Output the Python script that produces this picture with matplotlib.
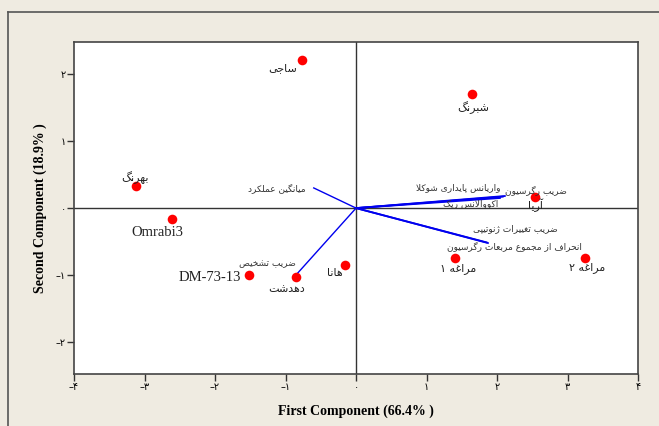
import matplotlib
matplotlib.use("Agg")
import matplotlib.pyplot as plt
from matplotlib.lines import Line2D

# Persian letters -> presentation forms (isolated, final, initial, medial)
FORMS = {
    'ا': ('\uFE8D', '\uFE8E', None, None),
    'آ': ('\uFE81', '\uFE82', None, None),
    'ب': ('\uFE8F', '\uFE90', '\uFE91', '\uFE92'),
    'پ': ('\uFB56', '\uFB57', '\uFB58', '\uFB59'),
    'ت': ('\uFE95', '\uFE96', '\uFE97', '\uFE98'),
    'ث': ('\uFE99', '\uFE9A', '\uFE9B', '\uFE9C'),
    'ج': ('\uFE9D', '\uFE9E', '\uFE9F', '\uFEA0'),
    'چ': ('\uFB7A', '\uFB7B', '\uFB7C', '\uFB7D'),
    'ح': ('\uFEA1', '\uFEA2', '\uFEA3', '\uFEA4'),
    'خ': ('\uFEA5', '\uFEA6', '\uFEA7', '\uFEA8'),
    'د': ('\uFEA9', '\uFEAA', None, None),
    'ذ': ('\uFEAB', '\uFEAC', None, None),
    'ر': ('\uFEAD', '\uFEAE', None, None),
    'ز': ('\uFEAF', '\uFEB0', None, None),
    'ژ': ('\uFB8A', '\uFB8B', None, None),
    'س': ('\uFEB1', '\uFEB2', '\uFEB3', '\uFEB4'),
    'ش': ('\uFEB5', '\uFEB6', '\uFEB7', '\uFEB8'),
    'ص': ('\uFEB9', '\uFEBA', '\uFEBB', '\uFEBC'),
    'ض': ('\uFEBD', '\uFEBE', '\uFEBF', '\uFEC0'),
    'ط': ('\uFEC1', '\uFEC2', '\uFEC3', '\uFEC4'),
    'ظ': ('\uFEC5', '\uFEC6', '\uFEC7', '\uFEC8'),
    'ع': ('\uFEC9', '\uFECA', '\uFECB', '\uFECC'),
    'غ': ('\uFECD', '\uFECE', '\uFECF', '\uFED0'),
    'ف': ('\uFED1', '\uFED2', '\uFED3', '\uFED4'),
    'ق': ('\uFED5', '\uFED6', '\uFED7', '\uFED8'),
    'ک': ('\uFB8E', '\uFB8F', '\uFB90', '\uFB91'),
    'گ': ('\uFB92', '\uFB93', '\uFB94', '\uFB95'),
    'ل': ('\uFEDD', '\uFEDE', '\uFEDF', '\uFEE0'),
    'م': ('\uFEE1', '\uFEE2', '\uFEE3', '\uFEE4'),
    'ن': ('\uFEE5', '\uFEE6', '\uFEE7', '\uFEE8'),
    'و': ('\uFEED', '\uFEEE', None, None),
    'ه': ('\uFEE9', '\uFEEA', '\uFEEB', '\uFEEC'),
    'ی': ('\uFBFC', '\uFBFD', '\uFBFE', '\uFBFF'),
}


def dual(c):
    return c in FORMS and FORMS[c][2] is not None


def fa(text):
    # shape the letters, then reverse for right-to-left display
    out = []
    i = 0
    while i < len(text):
        c = text[i]
        prev = text[i - 1] if i > 0 else ''
        nxt = text[i + 1] if i + 1 < len(text) else ''
        if c not in FORMS:
            out.append(c)
            i += 1
            continue
        jp = dual(prev)
        if c == 'ل' and nxt == 'ا':
            out.append('\uFEFC' if jp else '\uFEFB')
            i += 2
            continue
        jn = dual(c) and nxt in FORMS
        iso, fin, ini, med = FORMS[c]
        if jp and jn:
            out.append(med)
        elif jp:
            out.append(fin)
        elif jn:
            out.append(ini)
        else:
            out.append(iso)
        i += 1
    return ''.join(out[::-1])


FA_DIG = '۰۱۲۳۴۵۶۷۸۹'


def fa_num(v):
    s = ''.join(FA_DIG[int(d)] for d in str(abs(v)))
    return ('\u2013' + s) if v < 0 else s


# genotypes (scores)
genotypes = ['ساجی', 'بهرنگ', 'شبرنگ', 'آریا', 'Omrabi3', 'DM-73-13',
             'دهدشت', 'هانا', 'مراغه ۱', 'مراغه ۲']
pc1 = [-0.77, -3.12, 1.65, 2.54, -2.61, -1.52, -0.85, -0.16, 1.40, 3.25]
pc2 = [2.21, 0.33, 1.70, 0.16, -0.16, -0.99, -1.02, -0.84, -0.74, -0.74]
gx = [-1.04, -3.13, 1.66, 2.55, -2.82, -2.07, -0.99, -0.30, 1.45, 3.27]
gy = [2.08, 0.46, 1.50, 0.05, -0.37, -1.04, -1.21, -0.97, -0.90, -0.88]

# variables (loadings)
variables = ['میانگین عملکرد', 'واریانس پایداری شوکلا', 'ضریب رگرسیون',
             'اکووالانس ریک', 'ضریب تغییرات ژنوتیپی',
             'انحراف از مجموع مربعات رگرسیون', 'ضریب تشخیص']
vec1 = [-0.60, 2.11, 2.08, 2.04, 1.87, 1.85, -0.83]
vec2 = [0.30, 0.18, 0.17, 0.15, -0.52, -0.51, -0.97]
vx = [-1.12, 1.45, 2.55, 1.63, 2.26, 2.24, -1.25]
vy = [0.30, 0.30, 0.27, 0.06, -0.30, -0.57, -0.82]
vec_lw = [1.0, 1.3, 1.3, 1.3, 1.3, 1.3, 1.0]

xticks = [-4, -3, -2, -1, 0, 1, 2, 3, 4]
yticks = [-2, -1, 0, 1, 2]

bg = '#efebe1'
fam = ['Liberation Serif', 'DejaVu Sans']

fig = plt.figure(figsize=(6.59, 4.26), dpi=100, facecolor=bg)
ax = fig.add_axes([0.1123, 0.122, 0.856, 0.779])
ax.set_facecolor('white')

ax.axhline(0, color='#333333', lw=1.0, zorder=1)
ax.axvline(0, color='#333333', lw=1.0, zorder=1)

for i in range(len(variables)):
    ax.plot([0, vec1[i]], [0, vec2[i]], color='#0000ee', lw=vec_lw[i], zorder=2)
    ax.text(vx[i], vy[i], fa(variables[i]), fontsize=6.5, color='#333333',
            ha='center', va='center', family=['DejaVu Sans'], zorder=4)

ax.scatter(pc1, pc2, s=48, color='#ff0000', zorder=3, linewidths=0)
for i in range(len(genotypes)):
    name = genotypes[i]
    if name.isascii():
        ax.text(gx[i], gy[i], name, fontsize=10.5, color='#222222',
                ha='center', va='center', family=fam, zorder=4)
    else:
        ax.text(gx[i], gy[i], fa(name), fontsize=8, color='#222222',
                ha='center', va='center', family=['DejaVu Sans'], zorder=4)

ax.set_xlim(-4, 4)
ax.set_ylim(-2.47, 2.47)
ax.set_xticks(xticks)
ax.set_xticklabels([fa_num(v) for v in xticks], family=['DejaVu Sans'], fontsize=7)
ax.set_yticks(yticks)
ax.set_yticklabels([fa_num(v) for v in yticks], family=['DejaVu Sans'], fontsize=7)
ax.tick_params(direction='out', length=5, width=1, color='#333333', pad=1)
for sp in ax.spines.values():
    sp.set_color('#444444')
    sp.set_linewidth(1.2)

ax.set_xlabel('First Component (66.4% )', family=fam, fontweight='bold',
              fontsize=10, labelpad=9)
ax.set_ylabel('Second Component (18.9% )', family=fam, fontweight='bold',
              fontsize=10, labelpad=6)

# outer frame (left and top edges)
fig.add_artist(Line2D([8 / 659, 8 / 659], [0, 1 - 12 / 426], color='#555555',
                      lw=1.2, transform=fig.transFigure))
fig.add_artist(Line2D([8 / 659, 1], [1 - 12 / 426, 1 - 12 / 426], color='#555555',
                      lw=1.2, transform=fig.transFigure))

fig.savefig('out.png', dpi=100, facecolor=bg)
